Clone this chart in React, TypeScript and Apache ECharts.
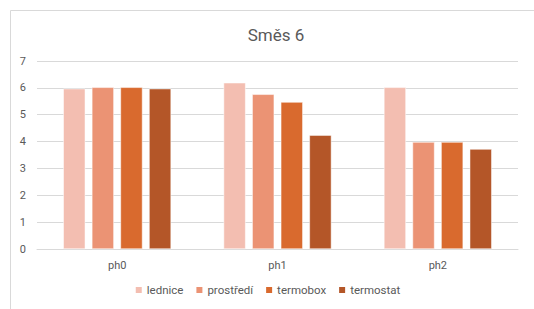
import React, { useEffect, useRef } from "react";
import * as echarts from "echarts";

const categories = ["ph0", "ph1", "ph2"];
const seriesNames = ["lednice", "prostředí", "termobox", "termostat"];
const lednice = [5.97, 6.19, 6.02];
const prostredi = [6.02, 5.76, 3.98];
const termobox = [6.02, 5.47, 3.98];
const termostat = [5.97, 4.24, 3.72];
const seriesValues = [lednice, prostredi, termobox, termostat];
const colors = ["#F3BEB1", "#EB9374", "#D96A2E", "#B45628"];

export default function App() {
  const ref = useRef<HTMLDivElement>(null);
  useEffect(() => {
    if (!ref.current) return;
    const chart = echarts.init(ref.current, undefined, { renderer: "svg" });
    chart.setOption({
      animation: false,
      backgroundColor: "#ffffff",
      textStyle: { fontFamily: "Roboto, 'Noto Sans', sans-serif" },
      title: {
        text: "Směs 6",
        left: 271,
        textAlign: "center",
        top: 21,
        textStyle: { color: "#595959", fontSize: 17, fontWeight: "normal" },
      },
      graphic: [
        {
          type: "rect",
          shape: { x: 10.5, y: 10.5, width: 540, height: 310 },
          style: { fill: "none", stroke: "#D9D9D9", lineWidth: 1 },
          silent: true,
        },
      ],
      legend: {
        data: seriesNames,
        bottom: 8,
        left: "center",
        itemWidth: 8,
        itemHeight: 8,
        itemGap: 11,
        icon: "rect",
        textStyle: { color: "#595959", fontSize: 11.5, padding: [0, 0, 0, -1] },
      },
      grid: { left: 37, right: 16, top: 61, bottom: 60, containLabel: false },
      xAxis: {
        type: "category",
        data: categories,
        axisLine: { lineStyle: { color: "#D9D9D9" } },
        axisTick: { show: false },
        axisLabel: { color: "#595959", fontSize: 11, margin: 11 },
      },
      yAxis: {
        type: "value",
        min: 0,
        max: 7,
        interval: 1,
        axisLine: { show: false },
        axisTick: { show: false },
        axisLabel: { color: "#595959", fontSize: 11, margin: 11 },
        splitLine: { lineStyle: { color: "#D9D9D9" } },
      },
      series: seriesNames.map((name, i) => ({
        name,
        type: "bar",
        data: seriesValues[i],
        barWidth: 22,
        barGap: "30%",
        itemStyle: { color: colors[i], borderColor: "#ffffff", borderWidth: 0.5 },
      })),
    });
    return () => chart.dispose();
  }, []);
  return (
    <div
      ref={ref}
      style={{ position: "fixed", left: 0, top: 0, width: 534, height: 309 }}
    />
  );
}
